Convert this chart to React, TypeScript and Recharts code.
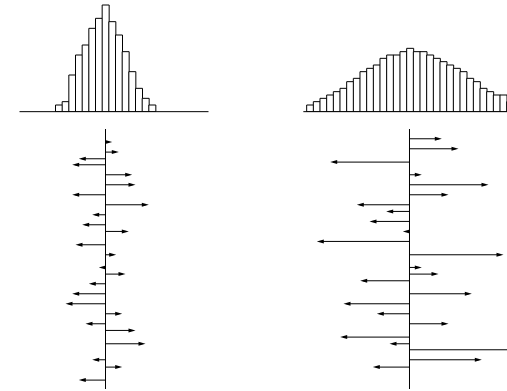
import React from 'react';
import { BarChart, Bar, XAxis, YAxis, ReferenceLine } from 'recharts';

// Histogram bins (bin centres) and counts
const leftBins = [-7, -6, -5, -4, -3, -2, -1, 0, 1, 2, 3, 4, 5, 6, 7];
const leftCounts = [2, 3, 11, 17, 20, 25, 28, 32, 27, 23, 18, 12, 7, 4, 2];

const rightBins = [-15, -14, -13, -12, -11, -10, -9, -8, -7, -6, -5, -4, -3, -2, -1, 0, 1, 2, 3, 4, 5, 6, 7, 8, 9, 10, 11, 12, 13, 14, 15];
const rightCounts = [2, 3, 4, 5, 6, 7, 9, 10, 12, 13, 14, 16, 17, 17, 18, 19, 18, 18, 17, 16, 15, 14, 13, 12, 10, 9, 7, 6, 5, 5, 3];

// Arrow rows (vertical position) and horizontal shifts
const leftRows = [3.9, 6.9, 8.9, 10.7, 13.7, 16.7, 19.7, 22.7, 25.7, 28.7, 30.7, 34.7, 37.7, 41.5, 43.5, 46.4, 49.4, 52.4, 55.4, 58.4, 60.4, 64.4, 69.2, 71.4, 75.3];
const leftShifts = [1, 2, -4, -5, 4, 4.5, -5, 6.5, -2, -3.5, 3.5, -4.5, 1.6, -1, 3, -2.5, -5, -6, 2.5, -3, 4.5, 6, -2, 2.5, -4];

const rightRows = [2.9, 5.9, 9.9, 13.7, 16.7, 19.7, 22.7, 24.7, 27.7, 30.7, 33.7, 37.7, 41.5, 43.5, 45.5, 49.4, 52.4, 55.4, 58.4, 62.4, 64.4, 66.2, 69.2, 71.4];
const rightShifts = [4.85, 7.35, -11.9, 1.85, 11.85, 5.85, -7.9, -3.5, -6, -1, -13.9, 14.1, 1.85, 4.35, -7.4, 9.35, -9.9, -4.9, 5.85, -10.4, -3, 16, 10.85, -5.5];

const leftDomain: [number, number] = [-12.9, 15.45];
const rightDomain: [number, number] = [-16, 19];
const rowDomain: [number, number] = [0, 78];
const countDomain: [number, number] = [0, 33.5];

const leftHist = leftBins.map((b, i) => ({ bin: b, count: leftCounts[i] }));
const rightHist = rightBins.map((b, i) => ({ bin: b, count: rightCounts[i] }));
const leftArrows = leftRows.map((r, i) => ({ row: r, dx: leftShifts[i] }));
const rightArrows = rightRows.map((r, i) => ({ row: r, dx: rightShifts[i] }));

const ArrowShape = (props: any) => {
  const { x, y, width, height, payload } = props;
  if (x == null || y == null || !payload) return null;
  const v = payload.dx;
  const a = x;
  const b = x + (width || 0);
  const lo = Math.min(a, b);
  const hi = Math.max(a, b);
  const base = v >= 0 ? lo : hi;
  const tip = v >= 0 ? hi : lo;
  const dir = v >= 0 ? 1 : -1;
  const cy = y + (height || 0) / 2;
  const head = 7;
  const half = 2;
  return (
    <g>
      <line x1={base} y1={cy} x2={tip - dir * 3} y2={cy} stroke="#000" strokeWidth={1} />
      <polygon
        points={`${tip},${cy} ${tip - dir * head},${cy - half} ${tip - dir * head},${cy + half}`}
        fill="#000"
      />
    </g>
  );
};

const Hist = ({ data, domain, width, height, margin }: any) => (
  <BarChart width={width} height={height} data={data} margin={margin} barCategoryGap={0} barGap={0}>
    <XAxis
      type="number"
      dataKey="bin"
      domain={domain}
      allowDataOverflow
      tick={false}
      tickLine={false}
      height={1}
      axisLine={{ stroke: '#000', strokeWidth: 1 }}
    />
    <YAxis type="number" domain={countDomain} hide allowDataOverflow />
    <Bar dataKey="count" fill="#fff" stroke="#000" strokeWidth={1} isAnimationActive={false} />
  </BarChart>
);

const Arrows = ({ data, domain, width, height, margin }: any) => (
  <BarChart layout="vertical" width={width} height={height} data={data} margin={margin}>
    <XAxis type="number" domain={domain} hide allowDataOverflow />
    <YAxis type="number" dataKey="row" domain={rowDomain} hide allowDataOverflow />
    <ReferenceLine x={0} stroke="#000" strokeWidth={1} ifOverflow="visible" />
    <Bar dataKey="dx" shape={<ArrowShape />} isAnimationActive={false} />
  </BarChart>
);

export default function App() {
  return (
    <div
      style={{
        position: 'fixed',
        left: 0,
        top: 0,
        width: 507,
        height: 391,
        overflow: 'hidden',
        background: '#fff',
      }}
    >
      <div style={{ position: 'absolute', left: 0, top: 0 }}>
        <Hist
          data={leftHist}
          domain={leftDomain}
          width={220}
          height={120}
          margin={{ top: 0, right: 11.5, bottom: 7.33, left: 19.5 }}
        />
      </div>
      <div style={{ position: 'absolute', left: 0, top: 0 }}>
        <Hist
          data={rightHist}
          domain={rightDomain}
          width={560}
          height={120}
          margin={{ top: 0, right: 23.33, bottom: 7.33, left: 303.33 }}
        />
      </div>
      <div style={{ position: 'absolute', left: 0, top: 0 }}>
        <Arrows
          data={leftArrows}
          domain={leftDomain}
          width={220}
          height={391}
          margin={{ top: 129, right: 11.5, bottom: 2, left: 19.5 }}
        />
      </div>
      <div style={{ position: 'absolute', left: 0, top: 0 }}>
        <Arrows
          data={rightArrows}
          domain={rightDomain}
          width={560}
          height={391}
          margin={{ top: 129, right: 23.83, bottom: 2, left: 302.83 }}
        />
      </div>
    </div>
  );
}
